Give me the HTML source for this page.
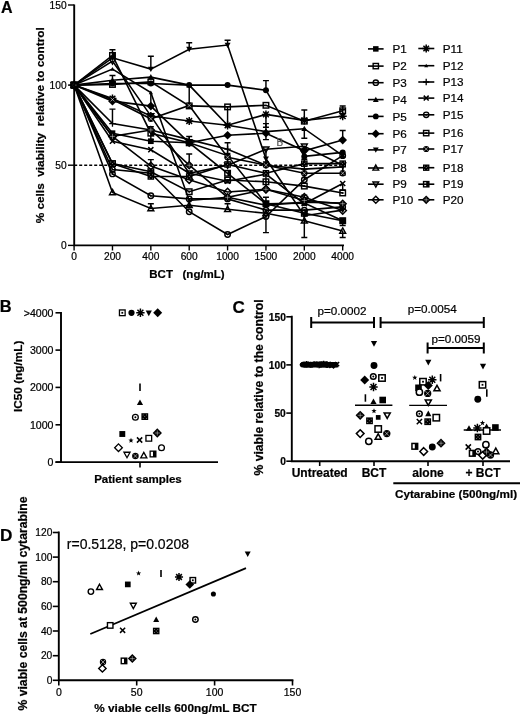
<!DOCTYPE html>
<html lang="en">
<head>
<meta charset="utf-8">
<title>Figure</title>
<style>html,body{margin:0;padding:0;background:#fff}body{width:520px;height:716px;overflow:hidden}</style>
</head>
<body>
<svg width="520" height="716" viewBox="0 0 520 716" font-family='"Liberation Sans", Arial, sans-serif' fill="#000" style="display:block">
<style>text{stroke:#000;stroke-width:0.22px}text.g{stroke:#555}</style>
<defs><filter id="soft" x="0" y="0" width="520" height="716" filterUnits="userSpaceOnUse"><feGaussianBlur stdDeviation="0.45"/></filter></defs>
<rect width="520" height="716" fill="#fff"/>
<g filter="url(#soft)">
<g id="panelA">
<path d="M74.2 165.25H344" stroke="#000" stroke-width="1.5" stroke-dasharray="3 2"/>
<path d="M112.47 49.8V57.8M109.47 49.8H115.47" stroke="#000" stroke-width="1.45" fill="none"/>
<path d="M112.47 75.5V80.3M109.47 75.5H115.47" stroke="#000" stroke-width="1.45" fill="none"/>
<path d="M112.47 109.1V123.6M109.47 109.1H115.47" stroke="#000" stroke-width="1.45" fill="none"/>
<path d="M150.84 56.2V69.1M147.84 56.2H153.84" stroke="#000" stroke-width="1.45" fill="none"/>
<path d="M150.84 92.6V105.5M147.84 105.5H153.84" stroke="#000" stroke-width="1.45" fill="none"/>
<path d="M150.84 159.6V166.1M147.84 159.6H153.84" stroke="#000" stroke-width="1.45" fill="none"/>
<path d="M189.21 42.8V49.2M186.21 42.8H192.21" stroke="#000" stroke-width="1.45" fill="none"/>
<path d="M227.58 40.2V45.0M224.58 40.2H230.58" stroke="#000" stroke-width="1.45" fill="none"/>
<path d="M189.21 85.1V105.9M186.21 105.9H192.21" stroke="#000" stroke-width="1.45" fill="none"/>
<path d="M227.58 106.9V124.5M224.58 124.5H230.58" stroke="#000" stroke-width="1.45" fill="none"/>
<path d="M265.95 80.6V90.2M262.95 80.6H268.95" stroke="#000" stroke-width="1.45" fill="none"/>
<path d="M265.95 114.4V127.3M262.95 127.3H268.95" stroke="#000" stroke-width="1.45" fill="none"/>
<path d="M265.95 216.5V232.6M262.95 232.6H268.95" stroke="#000" stroke-width="1.45" fill="none"/>
<path d="M304.32 109.9V121.2M301.32 109.9H307.32" stroke="#000" stroke-width="1.45" fill="none"/>
<path d="M304.32 216.5V237.4M301.32 237.4H307.32" stroke="#000" stroke-width="1.45" fill="none"/>
<path d="M342.69 109.8V116.2M339.69 109.8H345.69" stroke="#000" stroke-width="1.45" fill="none"/>
<path d="M342.69 231.0V237.4M339.69 237.4H345.69" stroke="#000" stroke-width="1.45" fill="none"/>
<path d="M342.69 130.5V140.1M339.69 130.5H345.69" stroke="#000" stroke-width="1.45" fill="none"/>
<path d="M189.21 154.0V165.2M186.21 154.0H192.21" stroke="#000" stroke-width="1.45" fill="none"/>
<path d="M227.58 142.8V163.6M224.58 142.8H230.58M224.58 163.6H230.58" stroke="#000" stroke-width="1.45" fill="none"/>
<path d="M265.95 123.6V139.6M262.95 123.6H268.95M262.95 139.6H268.95" stroke="#000" stroke-width="1.45" fill="none"/>
<path d="M304.32 128.7V138.3M301.32 138.3H307.32" stroke="#000" stroke-width="1.45" fill="none"/>
<path d="M304.32 148.4V164.4M301.32 148.4H307.32M301.32 164.4H307.32" stroke="#000" stroke-width="1.45" fill="none"/>
<path d="M304.32 173.3V179.7M301.32 173.3H307.32" stroke="#000" stroke-width="1.45" fill="none"/>
<path d="M304.32 195.1V203.1M301.32 195.1H307.32" stroke="#000" stroke-width="1.45" fill="none"/>
<path d="M342.69 105.9V110.7M339.69 105.9H345.69" stroke="#000" stroke-width="1.45" fill="none"/>
<path d="M342.69 183.5V189.9M339.69 189.9H345.69" stroke="#000" stroke-width="1.45" fill="none"/>
<path d="M265.95 175.3V188.2M262.95 175.3H268.95M262.95 188.2H268.95" stroke="#000" stroke-width="1.45" fill="none"/>
<path d="M265.95 197.3V203.7M262.95 197.3H268.95" stroke="#000" stroke-width="1.45" fill="none"/>
<path d="M342.69 220.7V225.5M339.69 225.5H345.69" stroke="#000" stroke-width="1.45" fill="none"/>
<path d="M150.84 126.8V139.6M147.84 126.8H153.84M147.84 139.6H153.84" stroke="#000" stroke-width="1.45" fill="none"/>
<path d="M189.21 136.4V142.8M186.21 136.4H192.21" stroke="#000" stroke-width="1.45" fill="none"/>
<path d="M150.84 203.7V208.5M147.84 203.7H153.84" stroke="#000" stroke-width="1.45" fill="none"/>
<path d="M189.21 202.1V206.9M186.21 206.9H192.21" stroke="#000" stroke-width="1.45" fill="none"/>
<path d="M227.58 203.7V208.5M224.58 203.7H230.58" stroke="#000" stroke-width="1.45" fill="none"/>
<path d="M304.32 146.3V159.2M301.32 159.2H307.32" stroke="#000" stroke-width="1.45" fill="none"/>
<path d="M342.69 165.2V174.9M339.69 174.9H345.69" stroke="#000" stroke-width="1.45" fill="none"/>
<path d="M265.95 149.2V162.0M262.95 162.0H268.95" stroke="#000" stroke-width="1.45" fill="none"/>
<polyline points="74.1,85.1 112.47,133.2 150.84,141.2 189.21,142.8 227.58,155.6 265.95,203.7 304.32,203.1 342.69,220.7" fill="none" stroke="#000" stroke-width="1.6"/>
<polyline points="74.1,85.1 112.47,84.5 150.84,81.9 189.21,105.9 227.58,106.9 265.95,105.3 304.32,121.2 342.69,110.7" fill="none" stroke="#000" stroke-width="1.6"/>
<polyline points="74.1,85.1 112.47,169.6 150.84,173.3 189.21,211.7 227.58,234.5 265.95,216.5 304.32,179.7 342.69,155.6" fill="none" stroke="#000" stroke-width="1.6"/>
<polyline points="74.1,85.1 112.47,80.3 150.84,77.1 189.21,85.1 227.58,125.2 265.95,131.6 304.32,128.7 342.69,155.6" fill="none" stroke="#000" stroke-width="1.6"/>
<polyline points="74.1,85.1 112.47,83.5 150.84,83.5 189.21,85.1 227.58,85.1 265.95,90.2 304.32,156.4 342.69,152.4" fill="none" stroke="#000" stroke-width="1.6"/>
<polyline points="74.1,85.1 112.47,101.1 150.84,106.1 189.21,142.8 227.58,135.3 265.95,133.2 304.32,150.8 342.69,140.1" fill="none" stroke="#000" stroke-width="1.6"/>
<polyline points="74.1,85.1 112.47,57.8 150.84,69.1 189.21,49.2 227.58,45.0 265.95,158.8 304.32,215.7 342.69,210.1" fill="none" stroke="#000" stroke-width="1.6"/>
<polyline points="74.1,85.1 112.47,192.5 150.84,208.5 189.21,205.3 227.58,209.3 265.95,213.3 304.32,220.7 342.69,231.0" fill="none" stroke="#000" stroke-width="1.6"/>
<polyline points="74.1,85.1 112.47,61.1 150.84,115.9 189.21,173.3 227.58,165.2 265.95,149.2 304.32,146.3 342.69,165.2" fill="none" stroke="#000" stroke-width="1.6"/>
<polyline points="74.1,85.1 112.47,136.4 150.84,166.1 189.21,179.7 227.58,192.0 265.95,189.3 304.32,197.3 342.69,210.6" fill="none" stroke="#000" stroke-width="1.6"/>
<polyline points="74.1,85.1 112.47,98.6 150.84,116.0 189.21,121.0 227.58,125.3 265.95,114.4 304.32,120.4 342.69,116.2" fill="none" stroke="#000" stroke-width="1.6"/>
<polyline points="74.1,85.1 112.47,69.1 150.84,92.6 189.21,200.5 227.58,197.3 265.95,205.3 304.32,202.1 342.69,203.1" fill="none" stroke="#000" stroke-width="1.6"/>
<polyline points="74.1,85.1 112.47,123.6 150.84,130.0 189.21,139.6 227.58,149.2 265.95,165.2 304.32,169.1 342.69,166.9" fill="none" stroke="#000" stroke-width="1.6"/>
<polyline points="74.1,85.1 112.47,141.2 150.84,149.7 189.21,173.3 227.58,181.3 265.95,174.1 304.32,203.7 342.69,183.5" fill="none" stroke="#000" stroke-width="1.6"/>
<polyline points="74.1,85.1 112.47,173.9 150.84,195.7 189.21,198.9 227.58,198.9 265.95,210.1 304.32,210.1 342.69,206.9" fill="none" stroke="#000" stroke-width="1.6"/>
<polyline points="74.1,85.1 112.47,163.6 150.84,171.7 189.21,191.7 227.58,180.0 265.95,181.8 304.32,186.1 342.69,193.0" fill="none" stroke="#000" stroke-width="1.6"/>
<polyline points="74.1,85.1 112.47,99.5 150.84,118.8 189.21,105.5 227.58,157.2 265.95,165.2 304.32,173.3 342.69,173.3" fill="none" stroke="#000" stroke-width="1.6"/>
<polyline points="74.1,85.1 112.47,163.6 150.84,176.5 189.21,176.5 227.58,164.4 265.95,173.3 304.32,163.6 342.69,163.6" fill="none" stroke="#000" stroke-width="1.6"/>
<polyline points="74.1,85.1 112.47,55.4 150.84,133.2 189.21,142.8 227.58,173.3 265.95,203.7 304.32,213.3 342.69,220.7" fill="none" stroke="#000" stroke-width="1.6"/>
<polyline points="74.1,85.1 112.47,136.4 150.84,130.0 189.21,165.2 227.58,197.3 265.95,189.3 304.32,200.5 342.69,203.7" fill="none" stroke="#000" stroke-width="1.6"/>
<rect x="71.35" y="82.35" width="5.5" height="5.5" fill="none" stroke="#000" stroke-width="1.45"/>
<rect x="109.72" y="81.71" width="5.5" height="5.5" fill="none" stroke="#000" stroke-width="1.45"/>
<rect x="148.09" y="79.14" width="5.5" height="5.5" fill="none" stroke="#000" stroke-width="1.45"/>
<rect x="186.46" y="103.19" width="5.5" height="5.5" fill="none" stroke="#000" stroke-width="1.45"/>
<rect x="224.83" y="104.15" width="5.5" height="5.5" fill="none" stroke="#000" stroke-width="1.45"/>
<rect x="263.2" y="102.55" width="5.5" height="5.5" fill="none" stroke="#000" stroke-width="1.45"/>
<rect x="301.57" y="118.42" width="5.5" height="5.5" fill="none" stroke="#000" stroke-width="1.45"/>
<rect x="339.94" y="108.0" width="5.5" height="5.5" fill="none" stroke="#000" stroke-width="1.45"/>
<circle cx="74.1" cy="85.1" r="2.73" fill="none" stroke="#000" stroke-width="1.45"/>
<circle cx="112.47" cy="169.58" r="2.73" fill="none" stroke="#000" stroke-width="1.45"/>
<circle cx="150.84" cy="173.26" r="2.73" fill="none" stroke="#000" stroke-width="1.45"/>
<circle cx="189.21" cy="211.74" r="2.73" fill="none" stroke="#000" stroke-width="1.45"/>
<circle cx="227.58" cy="234.5" r="2.73" fill="none" stroke="#000" stroke-width="1.45"/>
<circle cx="265.95" cy="216.55" r="2.73" fill="none" stroke="#000" stroke-width="1.45"/>
<circle cx="304.32" cy="179.68" r="2.73" fill="none" stroke="#000" stroke-width="1.45"/>
<circle cx="342.69" cy="155.63" r="2.73" fill="none" stroke="#000" stroke-width="1.45"/>
<path d="M74.1 82.05L77.05 87.36L71.14999999999999 87.36Z" fill="none" stroke="#000" stroke-width="1.45"/>
<path d="M112.47 189.45000000000002L115.42 194.76L109.52 194.76Z" fill="none" stroke="#000" stroke-width="1.45"/>
<path d="M150.84 205.48000000000002L153.79 210.79L147.89000000000001 210.79Z" fill="none" stroke="#000" stroke-width="1.45"/>
<path d="M189.21 202.27L192.16 207.57999999999998L186.26000000000002 207.57999999999998Z" fill="none" stroke="#000" stroke-width="1.45"/>
<path d="M227.58 206.28000000000003L230.53 211.59L224.63000000000002 211.59Z" fill="none" stroke="#000" stroke-width="1.45"/>
<path d="M265.95 210.29000000000002L268.9 215.6L263.0 215.6Z" fill="none" stroke="#000" stroke-width="1.45"/>
<path d="M304.32 217.66000000000003L307.27 222.97L301.37 222.97Z" fill="none" stroke="#000" stroke-width="1.45"/>
<path d="M342.69 227.92000000000002L345.64 233.23L339.74 233.23Z" fill="none" stroke="#000" stroke-width="1.45"/>
<path d="M74.1 88.14999999999999L77.05 82.83999999999999L71.14999999999999 82.83999999999999Z" fill="none" stroke="#000" stroke-width="1.45"/>
<path d="M112.47 64.11L115.42 58.800000000000004L109.52 58.800000000000004Z" fill="none" stroke="#000" stroke-width="1.45"/>
<path d="M150.84 118.92999999999999L153.79 113.61999999999999L147.89000000000001 113.61999999999999Z" fill="none" stroke="#000" stroke-width="1.45"/>
<path d="M189.21 176.30999999999997L192.16 171.0L186.26000000000002 171.0Z" fill="none" stroke="#000" stroke-width="1.45"/>
<path d="M227.58 168.29999999999998L230.53 162.99L224.63000000000002 162.99Z" fill="none" stroke="#000" stroke-width="1.45"/>
<path d="M265.95 152.26999999999998L268.9 146.96L263.0 146.96Z" fill="none" stroke="#000" stroke-width="1.45"/>
<path d="M304.32 149.38L307.27 144.07000000000002L301.37 144.07000000000002Z" fill="none" stroke="#000" stroke-width="1.45"/>
<path d="M342.69 168.29999999999998L345.64 162.99L339.74 162.99Z" fill="none" stroke="#000" stroke-width="1.45"/>
<path d="M74.1 81.39999999999999L77.8 85.1L74.1 88.8L70.39999999999999 85.1Z" fill="none" stroke="#000" stroke-width="1.45"/>
<path d="M112.47 132.70000000000002L116.17 136.4L112.47 140.1L108.77 136.4Z" fill="none" stroke="#000" stroke-width="1.45"/>
<path d="M150.84 162.35000000000002L154.54 166.05L150.84 169.75L147.14000000000001 166.05Z" fill="none" stroke="#000" stroke-width="1.45"/>
<path d="M189.21 175.98000000000002L192.91 179.68L189.21 183.38L185.51000000000002 179.68Z" fill="none" stroke="#000" stroke-width="1.45"/>
<path d="M227.58 188.32000000000002L231.28 192.02L227.58 195.72L223.88000000000002 192.02Z" fill="none" stroke="#000" stroke-width="1.45"/>
<path d="M265.95 185.60000000000002L269.65 189.3L265.95 193.0L262.25 189.3Z" fill="none" stroke="#000" stroke-width="1.45"/>
<path d="M304.32 193.61L308.02 197.31L304.32 201.01L300.62 197.31Z" fill="none" stroke="#000" stroke-width="1.45"/>
<path d="M342.69 206.91000000000003L346.39 210.61L342.69 214.31L338.99 210.61Z" fill="none" stroke="#000" stroke-width="1.45"/>
<path d="M70.05 85.10L78.15 85.10M71.24 82.24L76.96 87.96M74.10 81.05L74.10 89.15M76.96 82.24L71.24 87.96" stroke="#000" stroke-width="1.5"/>
<path d="M108.42 98.57L116.52 98.57M109.61 95.71L115.33 101.43M112.47 94.52L112.47 102.62M115.33 95.71L109.61 101.43" stroke="#000" stroke-width="1.5"/>
<path d="M146.79 116.04L154.89 116.04M147.98 113.18L153.70 118.90M150.84 111.99L150.84 120.09M153.70 113.18L147.98 118.90" stroke="#000" stroke-width="1.5"/>
<path d="M185.16 121.01L193.26 121.01M186.35 118.15L192.07 123.87M189.21 116.96L189.21 125.06M192.07 118.15L186.35 123.87" stroke="#000" stroke-width="1.5"/>
<path d="M223.53 125.34L231.63 125.34M224.72 122.48L230.44 128.20M227.58 121.29L227.58 129.39M230.44 122.48L224.72 128.20" stroke="#000" stroke-width="1.5"/>
<path d="M261.90 114.43L270.00 114.43M263.09 111.57L268.81 117.29M265.95 110.38L265.95 118.48M268.81 111.57L263.09 117.29" stroke="#000" stroke-width="1.5"/>
<path d="M300.27 120.37L308.37 120.37M301.46 117.51L307.18 123.23M304.32 116.32L304.32 124.42M307.18 117.51L301.46 123.23" stroke="#000" stroke-width="1.5"/>
<path d="M338.64 116.20L346.74 116.20M339.83 113.34L345.55 119.06M342.69 112.15L342.69 120.25M345.55 113.34L339.83 119.06" stroke="#000" stroke-width="1.5"/>
<path d="M74.1 83.0L76.19999999999999 86.78L72.0 86.78Z" fill="#000"/>
<path d="M112.47 66.97L114.57 70.75L110.37 70.75Z" fill="#000"/>
<path d="M150.84 90.53L152.94 94.31L148.74 94.31Z" fill="#000"/>
<path d="M189.21 198.42000000000002L191.31 202.20000000000002L187.11 202.20000000000002Z" fill="#000"/>
<path d="M227.58 195.21L229.68 198.99L225.48000000000002 198.99Z" fill="#000"/>
<path d="M265.95 203.22L268.05 207.0L263.84999999999997 207.0Z" fill="#000"/>
<path d="M304.32 200.02L306.42 203.8L302.21999999999997 203.8Z" fill="#000"/>
<path d="M342.69 200.98000000000002L344.79 204.76000000000002L340.59 204.76000000000002Z" fill="#000"/>
<path d="M70.8 85.1H77.39999999999999M74.1 81.8V88.39999999999999" stroke="#000" stroke-width="1.3"/>
<path d="M109.17 123.57H115.77M112.47 120.27V126.86999999999999" stroke="#000" stroke-width="1.3"/>
<path d="M147.54 129.98H154.14000000000001M150.84 126.67999999999999V133.28" stroke="#000" stroke-width="1.3"/>
<path d="M185.91 139.6H192.51000000000002M189.21 136.29999999999998V142.9" stroke="#000" stroke-width="1.3"/>
<path d="M224.28 149.22H230.88000000000002M227.58 145.92V152.52" stroke="#000" stroke-width="1.3"/>
<path d="M262.65 165.25H269.25M265.95 161.95V168.55" stroke="#000" stroke-width="1.3"/>
<path d="M301.02 169.1H307.62M304.32 165.79999999999998V172.4" stroke="#000" stroke-width="1.3"/>
<path d="M339.39 166.85H345.99M342.69 163.54999999999998V170.15" stroke="#000" stroke-width="1.3"/>
<path d="M71.55 82.55L76.64999999999999 87.64999999999999M76.64999999999999 82.55L71.55 87.64999999999999" stroke="#000" stroke-width="1.5"/>
<path d="M109.92 138.66L115.02 143.76000000000002M115.02 138.66L109.92 143.76000000000002" stroke="#000" stroke-width="1.5"/>
<path d="M148.29 147.14999999999998L153.39000000000001 152.25M153.39000000000001 147.14999999999998L148.29 152.25" stroke="#000" stroke-width="1.5"/>
<path d="M186.66 170.70999999999998L191.76000000000002 175.81M191.76000000000002 170.70999999999998L186.66 175.81" stroke="#000" stroke-width="1.5"/>
<path d="M225.03 178.73L230.13000000000002 183.83M230.13000000000002 178.73L225.03 183.83" stroke="#000" stroke-width="1.5"/>
<path d="M263.4 171.51999999999998L268.5 176.62M268.5 171.51999999999998L263.4 176.62" stroke="#000" stroke-width="1.5"/>
<path d="M301.77 201.17L306.87 206.27M306.87 201.17L301.77 206.27" stroke="#000" stroke-width="1.5"/>
<path d="M340.14 180.97L345.24 186.07000000000002M345.24 180.97L340.14 186.07000000000002" stroke="#000" stroke-width="1.5"/>
<circle cx="74.1" cy="85.1" r="2.73" fill="none" stroke="#000" stroke-width="1.45"/><circle cx="74.1" cy="85.1" r="1" fill="#000"/>
<circle cx="112.47" cy="173.91" r="2.73" fill="none" stroke="#000" stroke-width="1.45"/><circle cx="112.47" cy="173.91" r="1" fill="#000"/>
<circle cx="150.84" cy="195.71" r="2.73" fill="none" stroke="#000" stroke-width="1.45"/><circle cx="150.84" cy="195.71" r="1" fill="#000"/>
<circle cx="189.21" cy="198.91" r="2.73" fill="none" stroke="#000" stroke-width="1.45"/><circle cx="189.21" cy="198.91" r="1" fill="#000"/>
<circle cx="227.58" cy="198.91" r="2.73" fill="none" stroke="#000" stroke-width="1.45"/><circle cx="227.58" cy="198.91" r="1" fill="#000"/>
<circle cx="265.95" cy="210.13" r="2.73" fill="none" stroke="#000" stroke-width="1.45"/><circle cx="265.95" cy="210.13" r="1" fill="#000"/>
<circle cx="304.32" cy="210.13" r="2.73" fill="none" stroke="#000" stroke-width="1.45"/><circle cx="304.32" cy="210.13" r="1" fill="#000"/>
<circle cx="342.69" cy="206.93" r="2.73" fill="none" stroke="#000" stroke-width="1.45"/><circle cx="342.69" cy="206.93" r="1" fill="#000"/>
<rect x="71.35" y="82.35" width="5.5" height="5.5" fill="none" stroke="#000" stroke-width="1.45"/><rect x="73.19999999999999" y="84.19999999999999" width="1.8" height="1.8" fill="#000"/>
<rect x="109.72" y="160.9" width="5.5" height="5.5" fill="none" stroke="#000" stroke-width="1.45"/><rect x="111.57" y="162.75" width="1.8" height="1.8" fill="#000"/>
<rect x="148.09" y="168.91" width="5.5" height="5.5" fill="none" stroke="#000" stroke-width="1.45"/><rect x="149.94" y="170.76" width="1.8" height="1.8" fill="#000"/>
<rect x="186.46" y="188.95" width="5.5" height="5.5" fill="none" stroke="#000" stroke-width="1.45"/><rect x="188.31" y="190.79999999999998" width="1.8" height="1.8" fill="#000"/>
<rect x="224.83" y="177.25" width="5.5" height="5.5" fill="none" stroke="#000" stroke-width="1.45"/><rect x="226.68" y="179.1" width="1.8" height="1.8" fill="#000"/>
<rect x="263.2" y="179.01" width="5.5" height="5.5" fill="none" stroke="#000" stroke-width="1.45"/><rect x="265.05" y="180.85999999999999" width="1.8" height="1.8" fill="#000"/>
<rect x="301.57" y="183.34" width="5.5" height="5.5" fill="none" stroke="#000" stroke-width="1.45"/><rect x="303.42" y="185.19" width="1.8" height="1.8" fill="#000"/>
<rect x="339.94" y="190.23" width="5.5" height="5.5" fill="none" stroke="#000" stroke-width="1.45"/><rect x="341.79" y="192.07999999999998" width="1.8" height="1.8" fill="#000"/>
<rect x="71.35" y="82.35" width="5.5" height="5.5" fill="none" stroke="#000" stroke-width="1.45"/><rect x="74.1" y="82.35" width="2.75" height="5.5" fill="#000"/>
<rect x="109.72" y="52.69" width="5.5" height="5.5" fill="none" stroke="#000" stroke-width="1.45"/><rect x="112.47" y="52.69" width="2.75" height="5.5" fill="#000"/>
<rect x="148.09" y="130.44" width="5.5" height="5.5" fill="none" stroke="#000" stroke-width="1.45"/><rect x="150.84" y="130.44" width="2.75" height="5.5" fill="#000"/>
<rect x="186.46" y="140.06" width="5.5" height="5.5" fill="none" stroke="#000" stroke-width="1.45"/><rect x="189.21" y="140.06" width="2.75" height="5.5" fill="#000"/>
<rect x="224.83" y="170.51" width="5.5" height="5.5" fill="none" stroke="#000" stroke-width="1.45"/><rect x="227.58" y="170.51" width="2.75" height="5.5" fill="#000"/>
<rect x="263.2" y="200.97" width="5.5" height="5.5" fill="none" stroke="#000" stroke-width="1.45"/><rect x="265.95" y="200.97" width="2.75" height="5.5" fill="#000"/>
<rect x="301.57" y="210.59" width="5.5" height="5.5" fill="none" stroke="#000" stroke-width="1.45"/><rect x="304.32" y="210.59" width="2.75" height="5.5" fill="#000"/>
<rect x="339.94" y="217.96" width="5.5" height="5.5" fill="none" stroke="#000" stroke-width="1.45"/><rect x="342.69" y="217.96" width="2.75" height="5.5" fill="#000"/>
<rect x="71.25" y="82.25" width="5.70" height="5.70" fill="#000"/>
<rect x="109.62" y="130.34" width="5.70" height="5.70" fill="#000"/>
<rect x="147.99" y="138.36" width="5.70" height="5.70" fill="#000"/>
<rect x="186.36" y="139.96" width="5.70" height="5.70" fill="#000"/>
<rect x="224.73" y="152.78" width="5.70" height="5.70" fill="#000"/>
<rect x="263.10" y="200.87" width="5.70" height="5.70" fill="#000"/>
<rect x="301.47" y="200.23" width="5.70" height="5.70" fill="#000"/>
<rect x="339.84" y="217.86" width="5.70" height="5.70" fill="#000"/>
<path d="M74.1 82.1L77.1 87.5L71.1 87.5Z" fill="#000"/>
<path d="M112.47 77.29L115.47 82.69000000000001L109.47 82.69000000000001Z" fill="#000"/>
<path d="M150.84 74.09L153.84 79.49000000000001L147.84 79.49000000000001Z" fill="#000"/>
<path d="M189.21 82.1L192.21 87.5L186.21 87.5Z" fill="#000"/>
<path d="M227.58 122.18L230.58 127.58000000000001L224.58 127.58000000000001Z" fill="#000"/>
<path d="M265.95 128.59L268.95 133.99L262.95 133.99Z" fill="#000"/>
<path d="M304.32 125.69999999999999L307.32 131.1L301.32 131.1Z" fill="#000"/>
<path d="M342.69 152.63L345.69 158.03L339.69 158.03Z" fill="#000"/>
<circle cx="74.1" cy="85.1" r="3.0" fill="#000"/>
<circle cx="112.47" cy="83.5" r="3.0" fill="#000"/>
<circle cx="150.84" cy="83.5" r="3.0" fill="#000"/>
<circle cx="189.21" cy="85.1" r="3.0" fill="#000"/>
<circle cx="227.58" cy="85.1" r="3.0" fill="#000"/>
<circle cx="265.95" cy="90.23" r="3.0" fill="#000"/>
<circle cx="304.32" cy="156.43" r="3.0" fill="#000"/>
<circle cx="342.69" cy="152.43" r="3.0" fill="#000"/>
<path d="M74.1 80.75L78.44999999999999 85.1L74.1 89.44999999999999L69.75 85.1Z" fill="#000"/>
<path d="M112.47 96.78L116.82 101.13L112.47 105.47999999999999L108.12 101.13Z" fill="#000"/>
<path d="M150.84 101.75L155.19 106.1L150.84 110.44999999999999L146.49 106.1Z" fill="#000"/>
<path d="M189.21 138.46L193.56 142.81L189.21 147.16L184.86 142.81Z" fill="#000"/>
<path d="M227.58 130.92000000000002L231.93 135.27L227.58 139.62L223.23000000000002 135.27Z" fill="#000"/>
<path d="M265.95 128.84L270.3 133.19L265.95 137.54L261.59999999999997 133.19Z" fill="#000"/>
<path d="M304.32 146.47L308.67 150.82L304.32 155.17L299.96999999999997 150.82Z" fill="#000"/>
<path d="M342.69 135.73000000000002L347.04 140.08L342.69 144.43L338.34 140.08Z" fill="#000"/>
<path d="M74.1 88.1L77.1 82.69999999999999L71.1 82.69999999999999Z" fill="#000"/>
<path d="M112.47 60.85L115.47 55.45L109.47 55.45Z" fill="#000"/>
<path d="M150.84 72.07L153.84 66.66999999999999L147.84 66.66999999999999Z" fill="#000"/>
<path d="M189.21 52.19L192.21 46.79L186.21 46.79Z" fill="#000"/>
<path d="M227.58 48.03L230.58 42.63L224.58 42.63Z" fill="#000"/>
<path d="M265.95 161.84L268.95 156.44L262.95 156.44Z" fill="#000"/>
<path d="M304.32 218.74L307.32 213.34L301.32 213.34Z" fill="#000"/>
<path d="M342.69 213.13L345.69 207.73L339.69 207.73Z" fill="#000"/>
<circle cx="74.1" cy="85.1" r="3.2" fill="#000"/><path d="M72.18 83.18L76.02 87.02M76.02 83.18L72.18 87.02" stroke="#fff" stroke-width="0.55"/>
<circle cx="112.47" cy="99.53" r="3.2" fill="#000"/><path d="M110.55 97.61L114.39 101.45M114.39 97.61L110.55 101.45" stroke="#fff" stroke-width="0.55"/>
<circle cx="150.84" cy="118.76" r="3.2" fill="#000"/><path d="M148.92 116.84L152.76 120.68M152.76 116.84L148.92 120.68" stroke="#fff" stroke-width="0.55"/>
<circle cx="189.21" cy="105.46" r="3.2" fill="#000"/><path d="M187.29 103.54L191.13 107.38M191.13 103.54L187.29 107.38" stroke="#fff" stroke-width="0.55"/>
<circle cx="227.58" cy="157.24" r="3.2" fill="#000"/><path d="M225.66 155.32L229.50 159.16M229.50 155.32L225.66 159.16" stroke="#fff" stroke-width="0.55"/>
<circle cx="265.95" cy="165.25" r="3.2" fill="#000"/><path d="M264.03 163.33L267.87 167.17M267.87 163.33L264.03 167.17" stroke="#fff" stroke-width="0.55"/>
<circle cx="304.32" cy="173.26" r="3.2" fill="#000"/><path d="M302.40 171.34L306.24 175.18M306.24 171.34L302.40 175.18" stroke="#fff" stroke-width="0.55"/>
<circle cx="342.69" cy="173.26" r="3.2" fill="#000"/><path d="M340.77 171.34L344.61 175.18M344.61 171.34L340.77 175.18" stroke="#fff" stroke-width="0.55"/>
<rect x="70.80" y="81.80" width="6.60" height="6.60" fill="#000"/><g fill="#fff"><circle cx="74.1" cy="85.1" r="0.42"/><circle cx="72.45" cy="83.45" r="0.42"/><circle cx="75.75" cy="83.45" r="0.42"/><circle cx="72.45" cy="86.75" r="0.42"/><circle cx="75.75" cy="86.75" r="0.42"/></g>
<rect x="109.17" y="160.35" width="6.60" height="6.60" fill="#000"/><g fill="#fff"><circle cx="112.47" cy="163.65" r="0.42"/><circle cx="110.82" cy="162.00" r="0.42"/><circle cx="114.12" cy="162.00" r="0.42"/><circle cx="110.82" cy="165.30" r="0.42"/><circle cx="114.12" cy="165.30" r="0.42"/></g>
<rect x="147.54" y="173.17" width="6.60" height="6.60" fill="#000"/><g fill="#fff"><circle cx="150.84" cy="176.47" r="0.42"/><circle cx="149.19" cy="174.82" r="0.42"/><circle cx="152.49" cy="174.82" r="0.42"/><circle cx="149.19" cy="178.12" r="0.42"/><circle cx="152.49" cy="178.12" r="0.42"/></g>
<rect x="185.91" y="173.17" width="6.60" height="6.60" fill="#000"/><g fill="#fff"><circle cx="189.21" cy="176.47" r="0.42"/><circle cx="187.56" cy="174.82" r="0.42"/><circle cx="190.86" cy="174.82" r="0.42"/><circle cx="187.56" cy="178.12" r="0.42"/><circle cx="190.86" cy="178.12" r="0.42"/></g>
<rect x="224.28" y="161.15" width="6.60" height="6.60" fill="#000"/><g fill="#fff"><circle cx="227.58" cy="164.45" r="0.42"/><circle cx="225.93" cy="162.80" r="0.42"/><circle cx="229.23" cy="162.80" r="0.42"/><circle cx="225.93" cy="166.10" r="0.42"/><circle cx="229.23" cy="166.10" r="0.42"/></g>
<rect x="262.65" y="169.96" width="6.60" height="6.60" fill="#000"/><g fill="#fff"><circle cx="265.95" cy="173.26" r="0.42"/><circle cx="264.30" cy="171.61" r="0.42"/><circle cx="267.60" cy="171.61" r="0.42"/><circle cx="264.30" cy="174.91" r="0.42"/><circle cx="267.60" cy="174.91" r="0.42"/></g>
<rect x="301.02" y="160.35" width="6.60" height="6.60" fill="#000"/><g fill="#fff"><circle cx="304.32" cy="163.65" r="0.42"/><circle cx="302.67" cy="162.00" r="0.42"/><circle cx="305.97" cy="162.00" r="0.42"/><circle cx="302.67" cy="165.30" r="0.42"/><circle cx="305.97" cy="165.30" r="0.42"/></g>
<rect x="339.39" y="160.35" width="6.60" height="6.60" fill="#000"/><g fill="#fff"><circle cx="342.69" cy="163.65" r="0.42"/><circle cx="341.04" cy="162.00" r="0.42"/><circle cx="344.34" cy="162.00" r="0.42"/><circle cx="341.04" cy="165.30" r="0.42"/><circle cx="344.34" cy="165.30" r="0.42"/></g>
<path d="M74.1 80.6L78.6 85.1L74.1 89.6L69.6 85.1Z" fill="#000"/><path d="M71.62 85.1H76.57M74.1 82.62V87.57" stroke="#fff" stroke-width="0.42"/>
<path d="M112.47 131.9L116.97 136.4L112.47 140.9L107.97 136.4Z" fill="#000"/><path d="M110.00 136.4H114.94M112.47 133.93V138.88" stroke="#fff" stroke-width="0.42"/>
<path d="M150.84 125.47999999999999L155.34 129.98L150.84 134.48L146.34 129.98Z" fill="#000"/><path d="M148.37 129.98H153.31M150.84 127.50V132.45" stroke="#fff" stroke-width="0.42"/>
<path d="M189.21 160.75L193.71 165.25L189.21 169.75L184.71 165.25Z" fill="#000"/><path d="M186.74 165.25H191.69M189.21 162.78V167.72" stroke="#fff" stroke-width="0.42"/>
<path d="M227.58 192.81L232.08 197.31L227.58 201.81L223.08 197.31Z" fill="#000"/><path d="M225.11 197.31H230.06M227.58 194.84V199.78" stroke="#fff" stroke-width="0.42"/>
<path d="M265.95 184.8L270.45 189.3L265.95 193.8L261.45 189.3Z" fill="#000"/><path d="M263.47 189.3H268.43M265.95 186.83V191.78" stroke="#fff" stroke-width="0.42"/>
<path d="M304.32 196.02L308.82 200.52L304.32 205.02L299.82 200.52Z" fill="#000"/><path d="M301.84 200.52H306.80M304.32 198.05V203.00" stroke="#fff" stroke-width="0.42"/>
<path d="M342.69 199.22L347.19 203.72L342.69 208.22L338.19 203.72Z" fill="#000"/><path d="M340.21 203.72H345.17M342.69 201.25V206.19" stroke="#fff" stroke-width="0.42"/>
<path d="M74.2 4.4V245.4H344" stroke="#000" stroke-width="1.9" fill="none"/>
<path d="M68 245.4H74.2" stroke="#000" stroke-width="1.4"/>
<text x="66.6" y="249.0" font-size="10.2" text-anchor="end" style="white-space:pre">0</text>
<path d="M68 165.2H74.2" stroke="#000" stroke-width="1.4"/>
<text x="66.6" y="168.8" font-size="10.2" text-anchor="end" style="white-space:pre">50</text>
<path d="M68 85.1H74.2" stroke="#000" stroke-width="1.4"/>
<text x="66.6" y="88.7" font-size="10.2" text-anchor="end" style="white-space:pre">100</text>
<path d="M68 5.0H74.2" stroke="#000" stroke-width="1.4"/>
<text x="66.6" y="8.6" font-size="10.2" text-anchor="end" style="white-space:pre">150</text>
<path d="M74.1 245.4V250.5" stroke="#000" stroke-width="1.4"/>
<text x="74.1" y="260.2" font-size="10.2" text-anchor="middle" style="white-space:pre">0</text>
<path d="M112.47 245.4V250.5" stroke="#000" stroke-width="1.4"/>
<text x="112.47" y="260.2" font-size="10.2" text-anchor="middle" style="white-space:pre">200</text>
<path d="M150.84 245.4V250.5" stroke="#000" stroke-width="1.4"/>
<text x="150.84" y="260.2" font-size="10.2" text-anchor="middle" style="white-space:pre">400</text>
<path d="M189.21 245.4V250.5" stroke="#000" stroke-width="1.4"/>
<text x="189.21" y="260.2" font-size="10.2" text-anchor="middle" style="white-space:pre">600</text>
<path d="M227.58 245.4V250.5" stroke="#000" stroke-width="1.4"/>
<text x="227.58" y="260.2" font-size="10.2" text-anchor="middle" style="white-space:pre">1000</text>
<path d="M265.95 245.4V250.5" stroke="#000" stroke-width="1.4"/>
<text x="265.95" y="260.2" font-size="10.2" text-anchor="middle" style="white-space:pre">1500</text>
<path d="M304.32 245.4V250.5" stroke="#000" stroke-width="1.4"/>
<text x="304.32" y="260.2" font-size="10.2" text-anchor="middle" style="white-space:pre">2000</text>
<path d="M342.69 245.4V250.5" stroke="#000" stroke-width="1.4"/>
<text x="342.69" y="260.2" font-size="10.2" text-anchor="middle" style="white-space:pre">4000</text>
<text x="1" y="13" font-size="16" font-weight="bold" text-anchor="start" style="white-space:pre">A</text>
<text x="44.5" y="125.3" font-size="11.8" font-weight="bold" text-anchor="middle" transform="rotate(-90 44.5 125.3)" style="white-space:pre">% cells  viability  relative to control</text>
<text x="187" y="278" font-size="11.5" font-weight="bold" text-anchor="middle" style="white-space:pre">BCT   (ng/mL)</text>
<text x="276.6" y="145.6" font-size="10" text-anchor="start" fill="#555" class="g" style="white-space:pre">B</text>
<path d="M368 48.9H383.6" stroke="#000" stroke-width="1.6"/>
<rect x="373.05" y="46.15" width="5.50" height="5.50" fill="#000"/>
<text x="392.4" y="53.0" font-size="11.7" text-anchor="start" style="white-space:pre">P1</text>
<path d="M368 66.1H383.6" stroke="#000" stroke-width="1.6"/>
<rect x="373.15000000000003" y="63.449999999999996" width="5.3" height="5.3" fill="none" stroke="#000" stroke-width="1.4"/>
<text x="392.4" y="70.2" font-size="11.7" text-anchor="start" style="white-space:pre">P2</text>
<path d="M368 82.7H383.6" stroke="#000" stroke-width="1.6"/>
<circle cx="375.8" cy="82.7" r="2.65" fill="none" stroke="#000" stroke-width="1.4"/>
<text x="392.4" y="86.8" font-size="11.7" text-anchor="start" style="white-space:pre">P3</text>
<path d="M368 99.6H383.6" stroke="#000" stroke-width="1.6"/>
<path d="M375.8 96.69999999999999L378.7 101.91999999999999L372.90000000000003 101.91999999999999Z" fill="#000"/>
<text x="392.4" y="103.7" font-size="11.7" text-anchor="start" style="white-space:pre">P4</text>
<path d="M368 116.4H383.6" stroke="#000" stroke-width="1.6"/>
<circle cx="375.8" cy="116.4" r="2.9" fill="#000"/>
<text x="392.4" y="120.5" font-size="11.7" text-anchor="start" style="white-space:pre">P5</text>
<path d="M368 133.7H383.6" stroke="#000" stroke-width="1.6"/>
<path d="M375.8 129.49499999999998L380.005 133.7L375.8 137.905L371.595 133.7Z" fill="#000"/>
<text x="392.4" y="137.8" font-size="11.7" text-anchor="start" style="white-space:pre">P6</text>
<path d="M368 149.9H383.6" stroke="#000" stroke-width="1.6"/>
<path d="M375.8 152.8L378.7 147.58L372.90000000000003 147.58Z" fill="#000"/>
<text x="392.4" y="154.0" font-size="11.7" text-anchor="start" style="white-space:pre">P7</text>
<path d="M368 168.0H383.6" stroke="#000" stroke-width="1.6"/>
<path d="M375.8 165.065L378.635 170.168L372.96500000000003 170.168Z" fill="none" stroke="#000" stroke-width="1.4"/>
<text x="392.4" y="172.1" font-size="11.7" text-anchor="start" style="white-space:pre">P8</text>
<path d="M368 184.2H383.6" stroke="#000" stroke-width="1.6"/>
<path d="M375.8 187.135L378.635 182.03199999999998L372.96500000000003 182.03199999999998Z" fill="none" stroke="#000" stroke-width="1.4"/>
<text x="392.4" y="188.3" font-size="11.7" text-anchor="start" style="white-space:pre">P9</text>
<path d="M368 199.8H383.6" stroke="#000" stroke-width="1.6"/>
<path d="M375.8 196.24L379.36 199.8L375.8 203.36L372.24 199.8Z" fill="none" stroke="#000" stroke-width="1.4"/>
<text x="392.4" y="203.9" font-size="11.7" text-anchor="start" style="white-space:pre">P10</text>
<path d="M418.3 48.5H434.3" stroke="#000" stroke-width="1.6"/>
<path d="M422.28 48.50L430.12 48.50M423.43 45.73L428.97 51.27M426.20 44.59L426.20 52.41M428.97 45.73L423.43 51.27" stroke="#000" stroke-width="1.5"/>
<text x="442.8" y="52.6" font-size="11.7" text-anchor="start" style="white-space:pre">P11</text>
<path d="M418.3 65.7H434.3" stroke="#000" stroke-width="1.6"/>
<path d="M426.2 63.67L428.22999999999996 67.324L424.17 67.324Z" fill="#000"/>
<text x="442.8" y="69.8" font-size="11.7" text-anchor="start" style="white-space:pre">P12</text>
<path d="M418.3 82.0H434.3" stroke="#000" stroke-width="1.6"/>
<path d="M423.01 82H429.39M426.2 78.81V85.19" stroke="#000" stroke-width="1.3"/>
<text x="442.8" y="86.1" font-size="11.7" text-anchor="start" style="white-space:pre">P13</text>
<path d="M418.3 98.1H434.3" stroke="#000" stroke-width="1.6"/>
<path d="M423.735 95.63499999999999L428.66499999999996 100.565M428.66499999999996 95.63499999999999L423.735 100.565" stroke="#000" stroke-width="1.5"/>
<text x="442.8" y="102.2" font-size="11.7" text-anchor="start" style="white-space:pre">P14</text>
<path d="M418.3 114.8H434.3" stroke="#000" stroke-width="1.6"/>
<circle cx="426.2" cy="114.8" r="2.65" fill="none" stroke="#000" stroke-width="1.4"/><circle cx="426.2" cy="114.8" r="1" fill="#000"/>
<text x="442.8" y="118.9" font-size="11.7" text-anchor="start" style="white-space:pre">P15</text>
<path d="M418.3 133.1H434.3" stroke="#000" stroke-width="1.6"/>
<rect x="423.55" y="130.45" width="5.3" height="5.3" fill="none" stroke="#000" stroke-width="1.4"/><rect x="425.3" y="132.2" width="1.8" height="1.8" fill="#000"/>
<text x="442.8" y="137.2" font-size="11.7" text-anchor="start" style="white-space:pre">P16</text>
<path d="M418.3 149.0H434.3" stroke="#000" stroke-width="1.6"/>
<circle cx="426.2" cy="149" r="3.1" fill="#000"/><path d="M424.34 147.14L428.06 150.86M428.06 147.14L424.34 150.86" stroke="#fff" stroke-width="0.55"/>
<text x="442.8" y="153.1" font-size="11.7" text-anchor="start" style="white-space:pre">P17</text>
<path d="M418.3 167.7H434.3" stroke="#000" stroke-width="1.6"/>
<rect x="423.00" y="164.50" width="6.40" height="6.40" fill="#000"/><g fill="#fff"><circle cx="426.2" cy="167.7" r="0.42"/><circle cx="424.60" cy="166.10" r="0.42"/><circle cx="427.80" cy="166.10" r="0.42"/><circle cx="424.60" cy="169.30" r="0.42"/><circle cx="427.80" cy="169.30" r="0.42"/></g>
<text x="442.8" y="171.8" font-size="11.7" text-anchor="start" style="white-space:pre">P18</text>
<path d="M418.3 184.2H434.3" stroke="#000" stroke-width="1.6"/>
<rect x="423.55" y="181.54999999999998" width="5.3" height="5.3" fill="none" stroke="#000" stroke-width="1.4"/><rect x="426.2" y="181.54999999999998" width="2.65" height="5.3" fill="#000"/>
<text x="442.8" y="188.3" font-size="11.7" text-anchor="start" style="white-space:pre">P19</text>
<path d="M418.3 199.8H434.3" stroke="#000" stroke-width="1.6"/>
<path d="M426.2 195.45000000000002L430.55 199.8L426.2 204.15L421.84999999999997 199.8Z" fill="#000"/><path d="M423.81 199.8H428.59M426.2 197.41V202.19" stroke="#fff" stroke-width="0.42"/>
<text x="442.8" y="203.9" font-size="11.7" text-anchor="start" style="white-space:pre">P20</text>
</g>
<g id="panelB">
<path d="M61 311.9V462.1M55.5 462.1H218" stroke="#000" stroke-width="1.9" fill="none"/>
<path d="M55.5 462.1H61" stroke="#000" stroke-width="1.6"/>
<text x="53.5" y="465.8" font-size="10.6" text-anchor="end" style="white-space:pre">0</text>
<path d="M55.5 424.8H61" stroke="#000" stroke-width="1.6"/>
<text x="53.5" y="428.5" font-size="10.6" text-anchor="end" style="white-space:pre">1000</text>
<path d="M55.5 387.4H61" stroke="#000" stroke-width="1.6"/>
<text x="53.5" y="391.1" font-size="10.6" text-anchor="end" style="white-space:pre">2000</text>
<path d="M55.5 350.1H61" stroke="#000" stroke-width="1.6"/>
<text x="53.5" y="353.8" font-size="10.6" text-anchor="end" style="white-space:pre">3000</text>
<path d="M55.5 312.8H61" stroke="#000" stroke-width="1.6"/>
<text x="53.5" y="316.5" font-size="10.6" text-anchor="end" style="white-space:pre">&gt;4000</text>
<path d="M140 462.1V467.5" stroke="#000" stroke-width="1.6"/>
<text x="-0.2" y="312" font-size="16.4" font-weight="bold" text-anchor="start" style="white-space:pre">B</text>
<text x="21.6" y="376.3" font-size="11.8" font-weight="bold" text-anchor="middle" transform="rotate(-90 21.6 376.3)" style="white-space:pre">IC50 (ng/mL)</text>
<text x="138" y="482.8" font-size="11.5" font-weight="bold" text-anchor="middle" style="white-space:pre">Patient samples</text>
<rect x="119.45" y="309.95" width="5.7" height="5.7" fill="#fff" stroke="#000" stroke-width="1.3"/><rect x="121.39999999999999" y="311.90000000000003" width="1.8" height="1.8" fill="#000"/>
<circle cx="131.5" cy="312.8" r="3.1" fill="#000"/>
<path d="M136.22 312.80L144.59 312.80M137.44 309.84L143.36 315.76M140.40 308.62L140.40 316.99M143.36 309.84L137.44 315.76" stroke="#000" stroke-width="1.5"/>
<path d="M148.8 316.20000000000005L151.9 310.62L145.70000000000002 310.62Z" fill="#000"/>
<path d="M157.7 308.305L162.195 312.8L157.7 317.295L153.20499999999998 312.8Z" fill="#000"/>
<path d="M140 383.58V391.02000000000004" stroke="#000" stroke-width="1.6"/>
<path d="M140 399.4L143.1 404.98L136.9 404.98Z" fill="#000"/>
<circle cx="135.4" cy="417.2" r="2.90" fill="#fff" stroke="#000" stroke-width="1.3"/><circle cx="135.4" cy="417.2" r="1" fill="#000"/>
<rect x="141.40" y="413.20" width="6.80" height="6.80" fill="#000"/><g fill="#fff"><circle cx="144.8" cy="416.6" r="0.42"/><circle cx="143.10" cy="414.90" r="0.42"/><circle cx="146.50" cy="414.90" r="0.42"/><circle cx="143.10" cy="418.30" r="0.42"/><circle cx="146.50" cy="418.30" r="0.42"/></g>
<rect x="119.35" y="431.05" width="5.90" height="5.90" fill="#000"/>
<polygon points="131.00,437.71 131.69,439.55 133.65,439.64 132.11,440.86 132.64,442.76 131.00,441.67 129.36,442.76 129.89,440.86 128.35,439.64 130.31,439.55" fill="#000"/>
<path d="M136.965 437.365L142.23499999999999 442.635M142.23499999999999 437.365L136.965 442.635" stroke="#000" stroke-width="1.5"/>
<rect x="145.95000000000002" y="435.45" width="5.7" height="5.7" fill="#fff" stroke="#000" stroke-width="1.3"/>
<path d="M157.3 428.35L161.95000000000002 433L157.3 437.65L152.65 433Z" fill="#000"/><path d="M154.74 433H159.86M157.3 430.44V435.56" stroke="#fff" stroke-width="0.42"/>
<path d="M118.5 443.86L122.34 447.7L118.5 451.53999999999996L114.66 447.7Z" fill="#fff" stroke="#000" stroke-width="1.3"/>
<path d="M127 457.76500000000004L130.065 452.24800000000005L123.935 452.24800000000005Z" fill="#fff" stroke="#000" stroke-width="1.3"/>
<circle cx="135.4" cy="456" r="3.3000000000000003" fill="#000"/><path d="M133.42 454.02L137.38 457.98M137.38 454.02L133.42 457.98" stroke="#fff" stroke-width="0.55"/>
<path d="M143.8 452.335L146.865 457.852L140.735 457.852Z" fill="#fff" stroke="#000" stroke-width="1.3"/>
<rect x="150.15" y="451.15" width="5.7" height="5.7" fill="#fff" stroke="#000" stroke-width="1.3"/><rect x="153" y="451.15" width="2.85" height="5.7" fill="#000"/>
<circle cx="161.5" cy="447.7" r="2.90" fill="#fff" stroke="#000" stroke-width="1.3"/>
</g>
<g id="panelC">
<path d="M291.8 315.8V461.2H510" stroke="#000" stroke-width="1.9" fill="none"/>
<path d="M286.3 461.2H291.8" stroke="#000" stroke-width="1.6"/>
<text x="285.8" y="464.9" font-size="10.2" font-weight="bold" text-anchor="end" style="white-space:pre">0</text>
<path d="M286.3 413.1H291.8" stroke="#000" stroke-width="1.6"/>
<text x="285.8" y="416.8" font-size="10.2" font-weight="bold" text-anchor="end" style="white-space:pre">50</text>
<path d="M286.3 364.9H291.8" stroke="#000" stroke-width="1.6"/>
<text x="285.8" y="368.6" font-size="10.2" font-weight="bold" text-anchor="end" style="white-space:pre">100</text>
<path d="M286.3 316.8H291.8" stroke="#000" stroke-width="1.6"/>
<text x="285.8" y="320.5" font-size="10.2" font-weight="bold" text-anchor="end" style="white-space:pre">150</text>
<path d="M319.7 461.2V466" stroke="#000" stroke-width="1.6"/>
<text x="319.7" y="477" font-size="12" font-weight="bold" text-anchor="middle" style="white-space:pre">Untreated</text>
<path d="M374 461.2V466" stroke="#000" stroke-width="1.6"/>
<text x="374" y="477" font-size="12" font-weight="bold" text-anchor="middle" style="white-space:pre">BCT</text>
<path d="M428 461.2V466" stroke="#000" stroke-width="1.6"/>
<text x="428" y="477" font-size="12" font-weight="bold" text-anchor="middle" style="white-space:pre">alone</text>
<path d="M483 461.2V466" stroke="#000" stroke-width="1.6"/>
<text x="483" y="477" font-size="12" font-weight="bold" text-anchor="middle" style="white-space:pre">+ BCT</text>
<text x="232.4" y="312.6" font-size="17" font-weight="bold" text-anchor="start" style="white-space:pre">C</text>
<text x="263.3" y="387.5" font-size="12.2" font-weight="bold" text-anchor="middle" transform="rotate(-90 263.3 387.5)" style="white-space:pre">% viable relative to the control</text>
<path d="M393.3 483.3H520" stroke="#000" stroke-width="1.9"/>
<text x="456" y="497.8" font-size="11.7" font-weight="bold" text-anchor="middle" style="white-space:pre">Cytarabine (500ng/ml)</text>
<path d="M311.2 322.6H374M311.2 317.1V328.1M374 317.1V328.1" stroke="#000" stroke-width="2" fill="none"/>
<text x="342" y="314.6" font-size="11.7" text-anchor="middle" style="white-space:pre">p=0.0002</text>
<path d="M380.6 322.5H483.8M380.6 317.0V328.0M483.8 317.0V328.0" stroke="#000" stroke-width="2" fill="none"/>
<text x="432.3" y="312.5" font-size="11.7" text-anchor="middle" style="white-space:pre">p=0.0054</text>
<path d="M427.6 348H483.8M427.6 342.5V353.5M483.8 342.5V353.5" stroke="#000" stroke-width="2" fill="none"/>
<text x="456" y="342.6" font-size="11.7" text-anchor="middle" style="white-space:pre">p=0.0059</text>
<circle cx="302.0" cy="364.79" r="2.4" fill="#000"/>
<circle cx="302.9" cy="364.34" r="2.4" fill="#000"/>
<path d="M301.76 362.51L305.84000000000003 366.59000000000003M305.84000000000003 362.51L301.76 366.59000000000003" stroke="#000" stroke-width="1.5"/>
<path d="M302.65999999999997 361.69L306.74 365.77000000000004M306.74 361.69L302.65999999999997 365.77000000000004" stroke="#000" stroke-width="1.5"/>
<rect x="303.35" y="363.17" width="4.50" height="4.50" fill="#000"/>
<path d="M303.26 364.12L309.74 364.12M304.21 361.83L308.79 366.41M306.50 360.88L306.50 367.36M308.79 361.83L304.21 366.41" stroke="#000" stroke-width="1.5"/>
<circle cx="307.4" cy="363.98" r="2.4" fill="#000"/>
<path d="M308.3 362.14000000000004L310.7 366.46000000000004L305.90000000000003 366.46000000000004Z" fill="#000"/>
<path d="M309.2 367.09999999999997L311.59999999999997 362.78L306.8 362.78Z" fill="#000"/>
<path d="M306.86 364.88L313.34 364.88M307.81 362.59L312.39 367.17M310.10 361.64L310.10 368.12M312.39 362.59L307.81 367.17" stroke="#000" stroke-width="1.5"/>
<circle cx="311.0" cy="364.06" r="2.4" fill="#000"/>
<circle cx="311.9" cy="365.34" r="2.4" fill="#000"/>
<path d="M310.76 362.34L314.84000000000003 366.42M314.84000000000003 362.34L310.76 366.42" stroke="#000" stroke-width="1.5"/>
<rect x="311.45" y="362.69" width="4.50" height="4.50" fill="#000"/>
<rect x="312.35" y="361.67" width="4.50" height="4.50" fill="#000"/>
<path d="M313.46 361.65L317.54 365.73M317.54 361.65L313.46 365.73" stroke="#000" stroke-width="1.5"/>
<path d="M316.4 366.06L318.79999999999995 361.74L314.0 361.74Z" fill="#000"/>
<path d="M317.3 366.53999999999996L319.7 362.21999999999997L314.90000000000003 362.21999999999997Z" fill="#000"/>
<path d="M316.15999999999997 363.0L320.24 367.08000000000004M320.24 363.0L316.15999999999997 367.08000000000004" stroke="#000" stroke-width="1.5"/>
<path d="M315.86 365.03L322.34 365.03M316.81 362.74L321.39 367.32M319.10 361.79L319.10 368.27M321.39 362.74L316.81 367.32" stroke="#000" stroke-width="1.5"/>
<path d="M316.76 364.39L323.24 364.39M317.71 362.10L322.29 366.68M320.00 361.15L320.00 367.63M322.29 362.10L317.71 366.68" stroke="#000" stroke-width="1.5"/>
<path d="M320.9 367.15L323.29999999999995 362.83L318.5 362.83Z" fill="#000"/>
<circle cx="321.8" cy="365.36" r="2.4" fill="#000"/>
<rect x="320.45" y="361.42" width="4.50" height="4.50" fill="#000"/>
<path d="M320.36 364.03L326.84 364.03M321.31 361.74L325.89 366.32M323.60 360.79L323.60 367.27M325.89 361.74L321.31 366.32" stroke="#000" stroke-width="1.5"/>
<path d="M324.5 362.07000000000005L326.9 366.39000000000004L322.1 366.39000000000004Z" fill="#000"/>
<path d="M325.4 362.91L327.79999999999995 367.23L323.0 367.23Z" fill="#000"/>
<path d="M323.06 364.61L329.54 364.61M324.01 362.32L328.59 366.90M326.30 361.37L326.30 367.85M328.59 362.32L324.01 366.90" stroke="#000" stroke-width="1.5"/>
<path d="M323.96 364.75L330.44 364.75M324.91 362.46L329.49 367.04M327.20 361.51L327.20 367.99M329.49 362.46L324.91 367.04" stroke="#000" stroke-width="1.5"/>
<path d="M326.06 362.72999999999996L330.14000000000004 366.81M330.14000000000004 362.72999999999996L326.06 366.81" stroke="#000" stroke-width="1.5"/>
<path d="M326.96 362.02L331.04 366.1M331.04 362.02L326.96 366.1" stroke="#000" stroke-width="1.5"/>
<path d="M329.9 361.47999999999996L333.38 364.96L329.9 368.44L326.41999999999996 364.96Z" fill="#000"/>
<rect x="328.55" y="363.06" width="4.50" height="4.50" fill="#000"/>
<path d="M329.65999999999997 362.9L333.74 366.98M333.74 362.9L329.65999999999997 366.98" stroke="#000" stroke-width="1.5"/>
<circle cx="332.6" cy="365.0" r="2.4" fill="#000"/>
<path d="M333.5 362.04999999999995L336.98 365.53L333.5 369.01L330.02 365.53Z" fill="#000"/>
<path d="M332.35999999999996 362.7L336.44 366.78000000000003M336.44 362.7L332.35999999999996 366.78000000000003" stroke="#000" stroke-width="1.5"/>
<path d="M335.3 362.51000000000005L337.7 366.83000000000004L332.90000000000003 366.83000000000004Z" fill="#000"/>
<path d="M336.2 362.86L338.59999999999997 367.18L333.8 367.18Z" fill="#000"/>
<path d="M335.06 362.09L339.14000000000004 366.17M339.14000000000004 362.09L335.06 366.17" stroke="#000" stroke-width="1.5"/>
<rect x="301.5" y="362" width="36" height="5.4" fill="#000"/>
<path d="M355 405.3H392.4M409.2 405.4H447M463.7 430H501" stroke="#000" stroke-width="1.4"/>
<path d="M374 346.70000000000005L377.1 341.12L370.9 341.12Z" fill="#000"/>
<circle cx="374" cy="365.5" r="3.45" fill="#000"/>
<path d="M364.7 375.505L369.195 380L364.7 384.495L360.205 380Z" fill="#000"/>
<circle cx="373.3" cy="376.5" r="2.80" fill="#fff" stroke="#000" stroke-width="1.5"/><circle cx="373.3" cy="376.5" r="1" fill="#000"/>
<rect x="378.8" y="374.8" width="6.4" height="6.4" fill="#fff" stroke="#000" stroke-width="1.5"/><rect x="381.1" y="377.1" width="1.8" height="1.8" fill="#000"/>
<path d="M369.31 387.00L377.69 387.00M370.54 384.04L376.46 389.96M373.50 382.81L373.50 391.19M376.46 384.04L370.54 389.96" stroke="#000" stroke-width="1.5"/>
<path d="M365.4 394.28V401.72" stroke="#000" stroke-width="1.6"/>
<path d="M373.5 398.4L376.6 403.98L370.4 403.98Z" fill="#000"/>
<rect x="379.40" y="396.70" width="6.60" height="6.60" fill="#000"/>
<path d="M360.2 410.65000000000003L364.84999999999997 415.3L360.2 419.95L355.55 415.3Z" fill="#000"/><path d="M357.64 415.3H362.76M360.2 412.74V417.86" stroke="#fff" stroke-width="0.42"/>
<polygon points="374.00,408.21 374.69,410.05 376.65,410.14 375.11,411.36 375.64,413.26 374.00,412.17 372.36,413.26 372.89,411.36 371.35,410.14 373.31,410.05" fill="#000"/>
<rect x="375.85" y="415.05" width="4.70" height="4.70" fill="#000"/>
<path d="M387.2 418.46500000000003L390.265 412.94800000000004L384.135 412.94800000000004Z" fill="#fff" stroke="#000" stroke-width="1.5"/>
<rect x="366.10" y="417.40" width="6.80" height="6.80" fill="#000"/><g fill="#fff"><circle cx="369.5" cy="420.8" r="0.42"/><circle cx="367.80" cy="419.10" r="0.42"/><circle cx="371.20" cy="419.10" r="0.42"/><circle cx="367.80" cy="422.50" r="0.42"/><circle cx="371.20" cy="422.50" r="0.42"/></g>
<rect x="375.0" y="425.8" width="6.4" height="6.4" fill="#fff" stroke="#000" stroke-width="1.5"/>
<path d="M360.2 429.76000000000005L364.03999999999996 433.6L360.2 437.44L356.36 433.6Z" fill="#fff" stroke="#000" stroke-width="1.5"/>
<circle cx="368.8" cy="441.3" r="3.15" fill="#fff" stroke="#000" stroke-width="1.5"/>
<path d="M378.2 433.835L381.265 439.352L375.135 439.352Z" fill="#fff" stroke="#000" stroke-width="1.5"/>
<circle cx="386.8" cy="433.6" r="3.6500000000000004" fill="#000"/><path d="M384.61 431.41L388.99 435.79M388.99 431.41L384.61 435.79" stroke="#fff" stroke-width="0.55"/>
<path d="M428.3 365.40000000000003L431.40000000000003 359.82L425.2 359.82Z" fill="#000"/>
<polygon points="414.80,374.91 415.49,376.75 417.45,376.84 415.91,378.06 416.44,379.96 414.80,378.87 413.16,379.96 413.69,378.06 412.15,376.84 414.11,376.75" fill="#000"/>
<rect x="419.8" y="378.5" width="6.4" height="6.4" fill="#fff" stroke="#000" stroke-width="1.5"/><rect x="422.1" y="380.8" width="1.8" height="1.8" fill="#000"/>
<path d="M428.12 379.80L436.49 379.80M429.34 376.84L435.26 382.76M432.30 375.62L432.30 383.99M435.26 376.84L429.34 382.76" stroke="#000" stroke-width="1.5"/>
<path d="M440.6 373.97999999999996V381.42" stroke="#000" stroke-width="1.6"/>
<path d="M428.3 380.905L432.795 385.4L428.3 389.895L423.805 385.4Z" fill="#000"/>
<rect x="415.20" y="384.50" width="6.60" height="6.60" fill="#000"/>
<path d="M437 385.335L440.065 390.852L433.935 390.852Z" fill="#fff" stroke="#000" stroke-width="1.5"/>
<circle cx="419.4" cy="392.2" r="3.15" fill="#fff" stroke="#000" stroke-width="1.5"/>
<circle cx="427.7" cy="393.4" r="3.6500000000000004" fill="#000"/><path d="M425.51 391.21L429.89 395.59M429.89 391.21L425.51 395.59" stroke="#fff" stroke-width="0.55"/>
<path d="M428.3 405.46500000000003L431.365 399.94800000000004L425.235 399.94800000000004Z" fill="#fff" stroke="#000" stroke-width="1.5"/>
<circle cx="419.4" cy="413.7" r="2.80" fill="#fff" stroke="#000" stroke-width="1.5"/><circle cx="419.4" cy="413.7" r="1" fill="#000"/>
<path d="M428.3 410.59999999999997L431.40000000000003 416.18L425.2 416.18Z" fill="#000"/>
<rect x="433.1" y="414.5" width="6.4" height="6.4" fill="#fff" stroke="#000" stroke-width="1.5"/>
<path d="M416.765 419.065L422.03499999999997 424.335M422.03499999999997 419.065L416.765 424.335" stroke="#000" stroke-width="1.5"/>
<rect x="424.30" y="418.30" width="6.80" height="6.80" fill="#000"/><g fill="#fff"><circle cx="427.7" cy="421.7" r="0.42"/><circle cx="426.00" cy="420.00" r="0.42"/><circle cx="429.40" cy="420.00" r="0.42"/><circle cx="426.00" cy="423.40" r="0.42"/><circle cx="429.40" cy="423.40" r="0.42"/></g>
<rect x="411.95" y="443.45" width="5.7" height="5.7" fill="#fff" stroke="#000" stroke-width="1.5"/><rect x="414.8" y="443.45" width="2.85" height="5.7" fill="#000"/>
<path d="M423.7 447.66L427.53999999999996 451.5L423.7 455.34L419.86 451.5Z" fill="#fff" stroke="#000" stroke-width="1.5"/>
<circle cx="432.3" cy="447" r="3.45" fill="#000"/>
<path d="M441 438.55L445.65 443.2L441 447.84999999999997L436.35 443.2Z" fill="#000"/><path d="M438.44 443.2H443.56M441 440.64V445.76" stroke="#fff" stroke-width="0.42"/>
<path d="M483 369.40000000000003L486.1 363.82L479.9 363.82Z" fill="#000"/>
<rect x="479.3" y="381.6" width="6.4" height="6.4" fill="#fff" stroke="#000" stroke-width="1.5"/><rect x="481.6" y="383.90000000000003" width="1.8" height="1.8" fill="#000"/>
<path d="M486.8 389.28V396.72" stroke="#000" stroke-width="1.6"/>
<circle cx="477.8" cy="399.2" r="3.45" fill="#000"/>
<polygon points="482.50,420.21 483.19,422.05 485.15,422.14 483.61,423.36 484.14,425.26 482.50,424.17 480.86,425.26 481.39,423.36 479.85,422.14 481.81,422.05" fill="#000"/>
<path d="M469 425.2L472.1 430.78000000000003L465.9 430.78000000000003Z" fill="#000"/>
<path d="M473.21 428.00L481.58 428.00M474.44 425.04L480.36 430.96M477.40 423.81L477.40 432.19M480.36 425.04L474.44 430.96" stroke="#000" stroke-width="1.5"/>
<path d="M486.6 423.4L489.70000000000005 428.98L483.5 428.98Z" fill="#000"/>
<rect x="492.10" y="424.20" width="6.60" height="6.60" fill="#000"/>
<rect x="483.40000000000003" y="427.8" width="6.4" height="6.4" fill="#fff" stroke="#000" stroke-width="1.5"/>
<rect x="474.60" y="433.60" width="6.80" height="6.80" fill="#000"/><g fill="#fff"><circle cx="478" cy="437" r="0.42"/><circle cx="476.30" cy="435.30" r="0.42"/><circle cx="479.70" cy="435.30" r="0.42"/><circle cx="476.30" cy="438.70" r="0.42"/><circle cx="479.70" cy="438.70" r="0.42"/></g>
<path d="M465.665 444.365L470.935 449.635M470.935 444.365L465.665 449.635" stroke="#000" stroke-width="1.5"/>
<circle cx="485.9" cy="444.7" r="3.15" fill="#fff" stroke="#000" stroke-width="1.5"/>
<circle cx="478" cy="451.6" r="2.80" fill="#fff" stroke="#000" stroke-width="1.5"/><circle cx="478" cy="451.6" r="1" fill="#000"/>
<rect x="469.45" y="450.45" width="5.7" height="5.7" fill="#fff" stroke="#000" stroke-width="1.5"/><rect x="472.3" y="450.45" width="2.85" height="5.7" fill="#000"/>
<path d="M495.8 448.135L498.865 453.652L492.735 453.652Z" fill="#fff" stroke="#000" stroke-width="1.5"/>
<circle cx="490.5" cy="455" r="3.6500000000000004" fill="#000"/><path d="M488.31 452.81L492.69 457.19M492.69 452.81L488.31 457.19" stroke="#fff" stroke-width="0.55"/>
<path d="M482.7 451.46000000000004L486.53999999999996 455.3L482.7 459.14L478.86 455.3Z" fill="#fff" stroke="#000" stroke-width="1.5"/>
<path d="M486.5 447.35L491.15 452L486.5 456.65L481.85 452Z" fill="#000"/><path d="M483.94 452H489.06M486.5 449.44V454.56" stroke="#fff" stroke-width="0.42"/>
</g>
<g id="panelD">
<path d="M58.8 531.5V680.3H293.4" stroke="#000" stroke-width="1.9" fill="none"/>
<path d="M52.8 680.3H58.8" stroke="#000" stroke-width="1.6"/>
<text x="52.3" y="684.0" font-size="10.2" text-anchor="end" style="white-space:pre">0</text>
<path d="M52.8 655.7H58.8" stroke="#000" stroke-width="1.6"/>
<text x="52.3" y="659.4" font-size="10.2" text-anchor="end" style="white-space:pre">20</text>
<path d="M52.8 631.0H58.8" stroke="#000" stroke-width="1.6"/>
<text x="52.3" y="634.7" font-size="10.2" text-anchor="end" style="white-space:pre">40</text>
<path d="M52.8 606.4H58.8" stroke="#000" stroke-width="1.6"/>
<text x="52.3" y="610.1" font-size="10.2" text-anchor="end" style="white-space:pre">60</text>
<path d="M52.8 581.7H58.8" stroke="#000" stroke-width="1.6"/>
<text x="52.3" y="585.4" font-size="10.2" text-anchor="end" style="white-space:pre">80</text>
<path d="M52.8 557.1H58.8" stroke="#000" stroke-width="1.6"/>
<text x="52.3" y="560.8" font-size="10.2" text-anchor="end" style="white-space:pre">100</text>
<path d="M52.8 532.5H58.8" stroke="#000" stroke-width="1.6"/>
<text x="52.3" y="536.2" font-size="10.2" text-anchor="end" style="white-space:pre">120</text>
<path d="M58.8 680.3V685.5" stroke="#000" stroke-width="1.6"/>
<text x="58.8" y="696.1" font-size="10.5" text-anchor="middle" style="white-space:pre">0</text>
<path d="M136.7 680.3V685.5" stroke="#000" stroke-width="1.6"/>
<text x="136.7" y="696.1" font-size="10.5" text-anchor="middle" style="white-space:pre">50</text>
<path d="M214.6 680.3V685.5" stroke="#000" stroke-width="1.6"/>
<text x="214.6" y="696.1" font-size="10.5" text-anchor="middle" style="white-space:pre">100</text>
<path d="M292.5 680.3V685.5" stroke="#000" stroke-width="1.6"/>
<text x="292.5" y="696.1" font-size="10.5" text-anchor="middle" style="white-space:pre">150</text>
<text x="0" y="541.4" font-size="17.2" font-weight="bold" text-anchor="start" style="white-space:pre">D</text>
<text x="27" y="603.5" font-size="12.2" font-weight="bold" text-anchor="middle" transform="rotate(-90 27 603.5)" style="white-space:pre">% viable cells at 500ng/ml cytarabine</text>
<text x="175.5" y="712.2" font-size="11.8" font-weight="bold" text-anchor="middle" style="white-space:pre">% viable cells 600ng/mL BCT</text>
<text x="66.8" y="548.8" font-size="14" text-anchor="start" style="white-space:pre">r=0.5128, p=0.0208</text>
<path d="M90.3 634L246 568.2" stroke="#000" stroke-width="1.8"/>
<circle cx="90.9" cy="591.6" r="2.75" fill="#fff" stroke="#000" stroke-width="1.4"/>
<path d="M99.5 584.2499999999999L102.45 589.56L96.55 589.56Z" fill="#fff" stroke="#000" stroke-width="1.4"/>
<rect x="124.95" y="581.55" width="5.70" height="5.70" fill="#000"/>
<polygon points="138.60,570.60 139.27,572.38 141.17,572.47 139.68,573.65 140.19,575.48 138.60,574.43 137.01,575.48 137.52,573.65 136.03,572.47 137.93,572.38" fill="#000"/>
<path d="M133.3 608.5500000000001L136.25 603.24L130.35000000000002 603.24Z" fill="#fff" stroke="#000" stroke-width="1.4"/>
<rect x="107.45" y="622.65" width="5.5" height="5.5" fill="#fff" stroke="#000" stroke-width="1.4"/>
<path d="M120.05 627.75L125.14999999999999 632.8499999999999M125.14999999999999 627.75L120.05 632.8499999999999" stroke="#000" stroke-width="1.5"/>
<circle cx="103" cy="662" r="3.2" fill="#000"/><path d="M101.08 660.08L104.92 663.92M104.92 660.08L101.08 663.92" stroke="#fff" stroke-width="0.55"/>
<path d="M102.4 664.6999999999999L106.10000000000001 668.4L102.4 672.1L98.7 668.4Z" fill="#fff" stroke="#000" stroke-width="1.4"/>
<rect x="121.25" y="658.15" width="5.5" height="5.5" fill="#fff" stroke="#000" stroke-width="1.4"/><rect x="124" y="658.15" width="2.75" height="5.5" fill="#000"/>
<path d="M132.3 654.1L136.8 658.6L132.3 663.1L127.80000000000001 658.6Z" fill="#000"/><path d="M129.83 658.6H134.78M132.3 656.12V661.08" stroke="#fff" stroke-width="0.42"/>
<path d="M247.7 557.0L250.7 551.6L244.7 551.6Z" fill="#000"/>
<path d="M161 569.9V577.1" stroke="#000" stroke-width="1.6"/>
<path d="M174.95 577.00L183.05 577.00M176.14 574.14L181.86 579.86M179.00 572.95L179.00 581.05M181.86 574.14L176.14 579.86" stroke="#000" stroke-width="1.5"/>
<rect x="190.05" y="577.55" width="5.5" height="5.5" fill="#fff" stroke="#000" stroke-width="1.4"/><rect x="191.9" y="579.4" width="1.8" height="1.8" fill="#000"/>
<path d="M189.8 580.15L194.15 584.5L189.8 588.85L185.45000000000002 584.5Z" fill="#000"/>
<circle cx="213.4" cy="594" r="2.55" fill="#000"/>
<circle cx="195.4" cy="619.5" r="2.75" fill="#fff" stroke="#000" stroke-width="1.4"/><circle cx="195.4" cy="619.5" r="1" fill="#000"/>
<path d="M156.2 616.5L159.2 621.9L153.2 621.9Z" fill="#000"/>
<rect x="152.90" y="627.70" width="6.60" height="6.60" fill="#000"/><g fill="#fff"><circle cx="156.2" cy="631" r="0.42"/><circle cx="154.55" cy="629.35" r="0.42"/><circle cx="157.85" cy="629.35" r="0.42"/><circle cx="154.55" cy="632.65" r="0.42"/><circle cx="157.85" cy="632.65" r="0.42"/></g>
</g>
</g>
</svg>
</body>
</html>
